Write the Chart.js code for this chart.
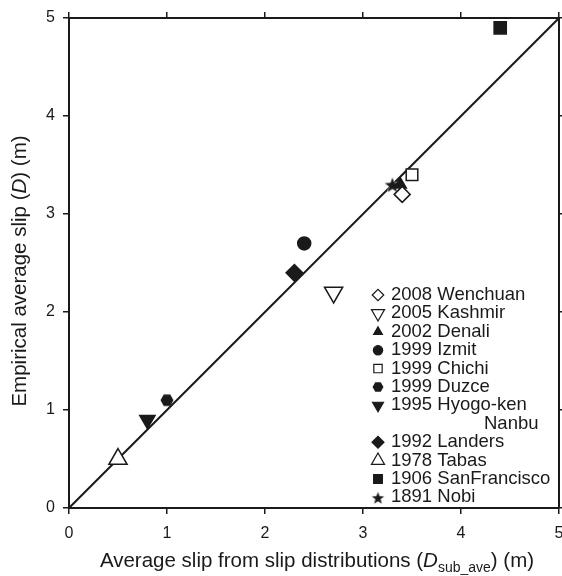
<!DOCTYPE html>
<html>
<head>
<meta charset="utf-8">
<script src="https://cdn.jsdelivr.net/npm/chart.js@4.4.0/dist/chart.umd.min.js"></script>
<style>
  html, body { margin: 0; padding: 0; background: #fff; }
  #wrap { width: 562px; height: 576px; }
</style>
</head>
<body>
<div id="wrap"><canvas id="chart"></canvas></div>
<script>
// values
const events = ["2008 Wenchuan", "2005 Kashmir", "2002 Denali", "1999 Izmit", "1999 Chichi", "1999 Duzce",
  "1995 Hyogo-ken Nanbu", "1992 Landers", "1978 Tabas", "1906 SanFrancisco", "1891 Nobi"];
const subAveSlip = [3.4, 2.7, 3.38, 2.4, 3.5, 1.0, 0.8, 2.3, 0.5, 4.4, 3.3];
const empiricalSlip = [3.2, 2.2, 3.3, 2.7, 3.4, 1.1, 0.9, 2.4, 0.5, 4.9, 3.3];
const axisTicks = [0, 1, 2, 3, 4, 5];
const oneToOne = [0, 5];

const INK = "#1a1a1a";
const FONT = "'Liberation Sans', Arial, Helvetica, sans-serif";
Chart.defaults.font.family = FONT;
Chart.defaults.color = INK;

// custom marker images (hexagon, filled star)
function makeHexagon(r) {
  const c = document.createElement("canvas");
  const s = Math.ceil(r * 2 + 3);
  c.width = s; c.height = s;
  const g = c.getContext("2d");
  g.beginPath();
  for (let k = 0; k < 6; k++) {
    const a = Math.PI / 3 * k;
    g.lineTo(s / 2 + r * Math.cos(a), s / 2 + r * Math.sin(a));
  }
  g.closePath();
  g.fillStyle = INK;
  g.fill();
  return c;
}
function makeStar(r) {
  const c = document.createElement("canvas");
  const s = Math.ceil(r * 2 + 4);
  c.width = s; c.height = s;
  const g = c.getContext("2d");
  g.beginPath();
  for (let k = 0; k < 10; k++) {
    const rr = k % 2 === 0 ? r : r * 0.42;
    const a = -Math.PI / 2 + Math.PI / 5 * k;
    g.lineTo(s / 2 + rr * Math.cos(a), s / 2 + 1 + rr * Math.sin(a));
  }
  g.closePath();
  g.fillStyle = INK;
  g.strokeStyle = "#fff";
  g.lineWidth = 1;
  g.stroke();
  g.fill();
  return c;
}

const markers = [
  { style: "rectRot", fill: false, r: 8, rot: 0 },
  { style: "triangle", fill: false, r: 10.5, rot: 180 },
  { style: "triangle", fill: true, r: 7, rot: 0 },
  { style: "circle", fill: true, r: 6.5, rot: 0 },
  { style: "rect", fill: false, r: 8.2, rot: 0 },
  { style: makeHexagon(6.5), legendImg: makeHexagon(5.5), fill: true, r: 6.5, rot: 0 },
  { style: "triangle", fill: true, r: 8.8, rot: 180 },
  { style: "rectRot", fill: true, r: 8.3, rot: 0 },
  { style: "triangle", fill: false, r: 10.5, rot: 0 },
  { style: "rect", fill: true, r: 8.6, rot: 0 },
  { style: makeStar(8), legendImg: makeStar(6.5), fill: true, r: 8, rot: 0 }
];

const datasets = events.map((name, i) => ({
  type: "scatter",
  label: name,
  data: [{ x: subAveSlip[i], y: empiricalSlip[i] }],
  pointStyle: markers[i].style,
  pointRotation: markers[i].rot,
  pointRadius: markers[i].r,
  pointHoverRadius: markers[i].r,
  pointBackgroundColor: markers[i].fill ? INK : "#fff",
  pointBorderColor: INK,
  pointBorderWidth: 1.5,
  order: 1
}));
datasets.push({
  type: "line",
  label: "1:1",
  data: oneToOne.map(v => ({ x: v, y: v })),
  borderColor: INK,
  borderWidth: 2,
  pointRadius: 0,
  order: 10
});

// legend rows (row 7 holds the wrapped "Nanbu")
const legendPlugin = {
  id: "quakeLegend",
  afterDraw(chart) {
    const ctx = chart.ctx;
    const rowY = row => 295 + row * 18.4;
    ctx.save();
    ctx.font = "18.5px " + FONT;
    ctx.textBaseline = "middle";
    ctx.fillStyle = INK;
    events.forEach((name, i) => {
      const row = i < 7 ? i : i + 1;
      const y = rowY(row);
      const m = markers[i];
      if (typeof m.style === "string") {
        ctx.fillStyle = m.fill ? INK : "#fff";
        ctx.strokeStyle = INK;
        ctx.lineWidth = 1.2;
        Chart.helpers.drawPoint(ctx, { pointStyle: m.style, rotation: m.rot, radius: m.r * 0.72, borderWidth: 1.2 }, 378, y);
      } else {
        const im = m.legendImg;
        ctx.drawImage(im, 378 - im.width / 2, y - im.height / 2);
      }
      ctx.fillStyle = INK;
      if (name === "1995 Hyogo-ken Nanbu") {
        ctx.fillText("1995 Hyogo-ken", 391, y);
        ctx.fillText("Nanbu", 484, rowY(7));
      } else {
        ctx.fillText(name, 391, y);
      }
    });
    ctx.restore();
  }
};

// axis titles with italic D and subscript
function drawRuns(ctx, runs, cx, y) {
  let total = 0;
  runs.forEach(r => { ctx.font = r.font; total += ctx.measureText(r.t).width; });
  let x = cx - total / 2;
  runs.forEach(r => {
    ctx.font = r.font;
    ctx.fillText(r.t, x, y + (r.dy || 0));
    x += ctx.measureText(r.t).width;
  });
}
const titlePlugin = {
  id: "axisTitles",
  afterDraw(chart) {
    const ctx = chart.ctx;
    const n = "20.5px " + FONT, it = "italic 20.5px " + FONT, sub = "14px " + FONT;
    ctx.save();
    ctx.fillStyle = INK;
    ctx.textBaseline = "alphabetic";
    ctx.textAlign = "left";
    drawRuns(ctx, [
      { t: "Average slip from slip distributions (", font: n },
      { t: "D", font: it },
      { t: "sub_ave", font: sub, dy: 5 },
      { t: ") (m)", font: n }
    ], 317, 567);
    ctx.translate(26, 271);
    ctx.rotate(-Math.PI / 2);
    drawRuns(ctx, [
      { t: "Empirical average slip (", font: n },
      { t: "D", font: it },
      { t: ") (m)", font: n }
    ], 0, 0);
    ctx.restore();
  }
};

function fixedTicks(s) { s.ticks = axisTicks.map(v => ({ value: v })); }
const gridOpts = { drawOnChartArea: false, drawTicks: true, tickLength: 6, color: INK, lineWidth: 1.5 };
const borderOpts = { color: INK, width: 2 };

new Chart(document.getElementById("chart"), {
  type: "scatter",
  data: { datasets },
  options: {
    responsive: true,
    maintainAspectRatio: false,
    animation: false,
    layout: { padding: 0, autoPadding: false },
    plugins: { legend: { display: false }, tooltip: { enabled: false } },
    scales: {
      x: {
        type: "linear", position: "bottom", min: 0, max: 5,
        afterBuildTicks: fixedTicks,
        ticks: { font: { size: 16 }, padding: 10, maxRotation: 0 },
        grid: gridOpts, border: borderOpts,
        afterFit: s => { s.height = 68; s.paddingLeft = 0; s.paddingRight = 0; }
      },
      x2: {
        type: "linear", position: "top", min: 0, max: 5,
        afterBuildTicks: fixedTicks,
        ticks: { display: false },
        grid: gridOpts, border: borderOpts,
        afterFit: s => { s.height = 18; s.paddingLeft = 0; s.paddingRight = 0; }
      },
      y: {
        type: "linear", position: "left", min: 0, max: 5,
        afterBuildTicks: fixedTicks,
        ticks: { font: { size: 16 }, padding: 8 },
        grid: gridOpts, border: borderOpts,
        afterFit: s => { s.width = 69; s.paddingTop = 0; s.paddingBottom = 0; }
      },
      y2: {
        type: "linear", position: "right", min: 0, max: 5,
        afterBuildTicks: fixedTicks,
        ticks: { display: false },
        grid: gridOpts, border: borderOpts,
        afterFit: s => { s.width = 3; s.paddingTop = 0; s.paddingBottom = 0; }
      }
    }
  },
  plugins: [legendPlugin, titlePlugin]
});
</script>
</body>
</html>
